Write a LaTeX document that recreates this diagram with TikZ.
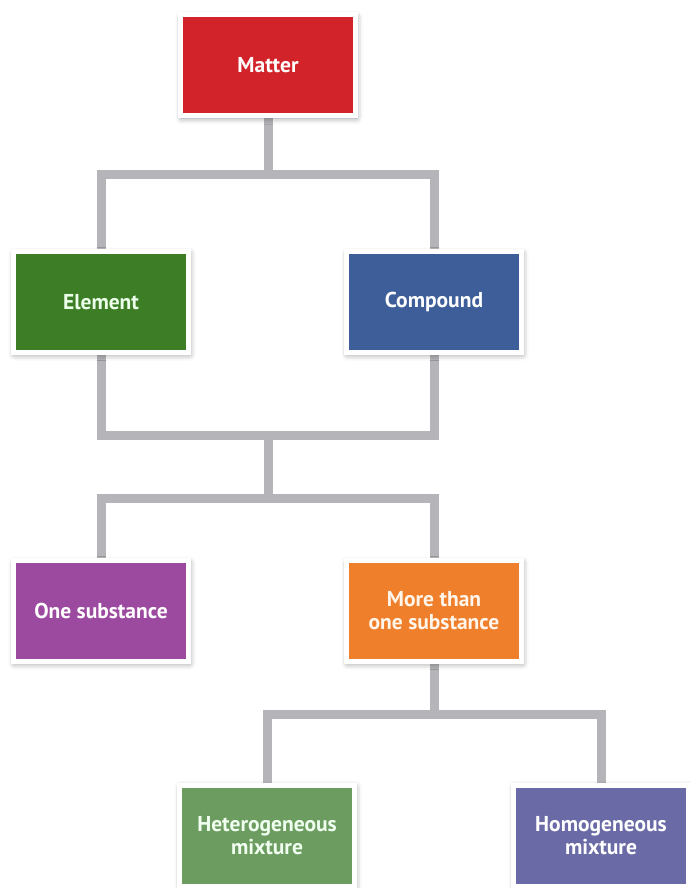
\documentclass[tikz,border=0pt]{standalone}
\usepackage{fontspec}
\setmainfont{PT Sans}
\usetikzlibrary{shadows.blur,backgrounds}
\definecolor{cRed}{HTML}{D2232A}
\definecolor{cGreen}{HTML}{3D7D25}
\definecolor{cBlue}{HTML}{3D5E99}
\definecolor{cPurple}{HTML}{9B4A9F}
\definecolor{cOrange}{HTML}{EF7F2B}
\definecolor{cLGreen}{HTML}{6C9C60}
\definecolor{cLBlue}{HTML}{6A6AA6}
\definecolor{cLine}{HTML}{B5B5B9}
\tikzset{
  box/.style={draw=white, line width=5pt, minimum width=175pt, minimum height=101pt,
    align=center, text=white, font=\fontsize{21.5}{23}\selectfont\bfseries,
    blur shadow={shadow xshift=1pt, shadow yshift=-2pt, shadow blur radius=6pt, shadow opacity=45}},
  conn/.style={draw=cLine, line width=9pt, line join=miter}
}
\begin{document}
\begin{tikzpicture}[x=1pt,y=-1pt]
\useasboundingbox (0,0) rectangle (689,888);
\node[box, fill=cRed] (matter) at (268,65.5) {Matter};
\node[box, fill=cGreen, text={green!8!white}] (element) at (101,302) {Element};
\node[box, fill=cBlue] (compound) at (434,302) {Compound};
\node[box, fill=cPurple] (one) at (101,611) {One substance};
\node[box, fill=cOrange, text={orange!8!white}] (more) at (434,611) {More than\\one substance};
\node[box, fill=cLGreen, text={green!6!white}] (hetero) at (267,835.5) {Heterogeneous\\mixture};
\node[box, fill=cLBlue] (homo) at (601,835.5) {Homogeneous\\mixture};
\coordinate (j1) at (268,174);
\coordinate (j2) at (268,435);
\coordinate (j3) at (268,498);
\coordinate (j4) at (434,714);
\begin{scope}[on background layer]
\draw[conn] (matter.south) -- (j1);
\draw[conn] (element.north) -- (element.north |- j1) -- (compound.north |- j1) -- (compound.north);
\draw[conn] (element.south) -- (element.south |- j2) -- (compound.south |- j2) -- (compound.south);
\draw[conn] (j2) -- (j3);
\draw[conn] (one.north) -- (one.north |- j3) -- (more.north |- j3) -- (more.north);
\draw[conn] (more.south) -- (j4);
\draw[conn] (hetero.north) -- (hetero.north |- j4) -- (homo.north |- j4) -- (homo.north);
\end{scope}
\end{tikzpicture}
\end{document}
